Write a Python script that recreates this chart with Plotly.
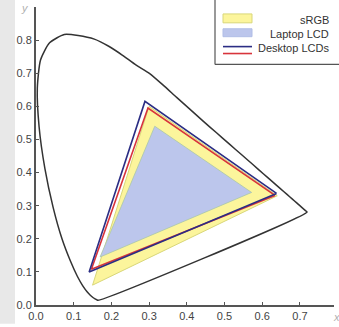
import plotly.graph_objects as go

# Spectral locus (CIE 1931-like horseshoe as drawn)
locus_x = [0.1644, 0.1611, 0.1566, 0.1510, 0.1440, 0.1355, 0.1241, 0.1096, 0.0913, 0.0687,
           0.0454, 0.0235, 0.0082, 0.0035, 0.0120, 0.0360, 0.0750, 0.1120, 0.1547, 0.1929,
           0.2296, 0.2658, 0.3016, 0.3373, 0.3731, 0.4087, 0.4441, 0.4788, 0.5125, 0.5448,
           0.5752, 0.6029, 0.6270, 0.6482, 0.6658, 0.6801, 0.6915, 0.7006, 0.7079, 0.7140,
           0.7190, 0.1644]
locus_y = [0.0140, 0.0158, 0.0187, 0.0227, 0.0297, 0.0399, 0.0578, 0.0868, 0.1327, 0.2007,
           0.2950, 0.4127, 0.5384, 0.6548, 0.7402, 0.7920, 0.8170, 0.8140, 0.8030, 0.7816,
           0.7543, 0.7243, 0.6990, 0.6640, 0.6270, 0.5910, 0.5547, 0.5202, 0.4866, 0.4544,
           0.4242, 0.3965, 0.3725, 0.3514, 0.3340, 0.3197, 0.3083, 0.2993, 0.2920, 0.2859,
           0.2809, 0.0140]

srgb_x = [0.640, 0.300, 0.150, 0.640]
srgb_y = [0.330, 0.600, 0.060, 0.330]

laptop_x = [0.572, 0.315, 0.170, 0.572]
laptop_y = [0.340, 0.540, 0.145, 0.340]

desk1_x = [0.638, 0.289, 0.141, 0.638]
desk1_y = [0.337, 0.615, 0.100, 0.337]

desk2_x = [0.634, 0.297, 0.147, 0.634]
desk2_y = [0.331, 0.595, 0.108, 0.331]

x_ticks = [0.0, 0.1, 0.2, 0.3, 0.4, 0.5, 0.6, 0.7]
y_ticks = [0.0, 0.1, 0.2, 0.3, 0.4, 0.5, 0.6, 0.7, 0.8]
legend_labels = ["sRGB", "Laptop LCD", "Desktop LCDs"]

W, H = 339, 327
ML, MR, MT, MB = 36, 5, 7, 19
PW = W - ML - MR
PH = H - MT - MB


def px(x):
    return (x - ML) / PW


def py(y):
    return (H - MB - y) / PH


fig = go.Figure()
fig.add_trace(go.Scatter(x=srgb_x, y=srgb_y, mode="lines", fill="toself",
                         fillcolor="#fcf59c", line=dict(color="#d9d77a", width=1),
                         hoverinfo="skip"))
fig.add_trace(go.Scatter(x=laptop_x, y=laptop_y, mode="lines", fill="toself",
                         fillcolor="#bcc6ec", line=dict(color="#a9c7a8", width=0.8),
                         hoverinfo="skip"))
fig.add_trace(go.Scatter(x=desk2_x, y=desk2_y, mode="lines",
                         line=dict(color="#d8343c", width=1.6), hoverinfo="skip"))
fig.add_trace(go.Scatter(x=desk1_x, y=desk1_y, mode="lines",
                         line=dict(color="#2b2d84", width=1.6), hoverinfo="skip"))
fig.add_trace(go.Scatter(x=locus_x, y=locus_y, mode="lines", line_shape="spline",
                         line=dict(color="#333333", width=1.5, smoothing=0.6), hoverinfo="skip"))

shapes = []
# gray band on the left
shapes.append(dict(type="rect", xref="paper", yref="paper", x0=px(0), x1=px(15),
                   y0=py(H), y1=py(0), fillcolor="#e8e8e8", line=dict(width=0), layer="below"))
# legend frame: white box, left and bottom borders only
shapes.append(dict(type="rect", xref="paper", yref="paper", x0=px(215), x1=px(W),
                   y0=py(65), y1=py(0), fillcolor="white", line=dict(width=0)))
shapes.append(dict(type="line", xref="paper", yref="paper", x0=px(215), x1=px(215),
                   y0=py(65), y1=py(0), line=dict(color="#555555", width=1.2)))
shapes.append(dict(type="line", xref="paper", yref="paper", x0=px(215), x1=px(W),
                   y0=py(65), y1=py(65), line=dict(color="#555555", width=1.2)))
# swatches
shapes.append(dict(type="rect", xref="paper", yref="paper", x0=px(223), x1=px(252),
                   y0=py(23), y1=py(14), fillcolor="#fcf59c", line=dict(color="#d9d77a", width=1)))
shapes.append(dict(type="rect", xref="paper", yref="paper", x0=px(223), x1=px(252),
                   y0=py(37), y1=py(29), fillcolor="#bcc6ec", line=dict(color="#b0bde6", width=1)))
shapes.append(dict(type="line", xref="paper", yref="paper", x0=px(223), x1=px(252),
                   y0=py(47), y1=py(47), line=dict(color="#2b2d84", width=1.6)))
shapes.append(dict(type="line", xref="paper", yref="paper", x0=px(223), x1=px(252),
                   y0=py(54), y1=py(54), line=dict(color="#d8343c", width=1.6)))

annotations = []
for lab, yy in zip(legend_labels, [20, 34, 48]):
    annotations.append(dict(text=lab, xref="paper", yref="paper", x=px(331), y=py(yy),
                            xanchor="right", yanchor="middle", showarrow=False,
                            font=dict(size=11, color="#333333")))
annotations.append(dict(text="<i>y</i>", xref="paper", yref="paper", x=px(25), y=py(8),
                        xanchor="center", yanchor="middle", showarrow=False,
                        font=dict(size=11, color="#b0b0b0")))
annotations.append(dict(text="<i>x</i>", xref="paper", yref="paper", x=px(336), y=py(320),
                        xanchor="center", yanchor="middle", showarrow=False,
                        font=dict(size=11, color="#b0b0b0")))

fig.update_layout(
    width=W, height=H,
    margin=dict(l=ML, r=MR, t=MT, b=MB, pad=0),
    paper_bgcolor="white", plot_bgcolor="white",
    showlegend=False,
    shapes=shapes, annotations=annotations,
    font=dict(family="Liberation Sans, Arial, sans-serif", size=11, color="#444444"),
    xaxis=dict(range=[0, PW / 377.0], tickvals=x_ticks, tickformat=".1f",
               showgrid=False, zeroline=False, showline=True, linecolor="#555555",
               linewidth=1.5, ticks="inside", ticklen=3, tickcolor="#555555",
               tickfont=dict(size=11, color="#444444")),
    yaxis=dict(range=[0, PH / 334.4], tickvals=y_ticks, tickformat=".1f",
               showgrid=False, zeroline=False, showline=True, linecolor="#555555",
               linewidth=2, ticks="inside", ticklen=3, tickcolor="#555555",
               tickfont=dict(size=11, color="#444444")),
)

fig.write_html("out.html", config={"displayModeBar": False},
               post_script="document.body.style.margin='0';document.body.style.overflow='hidden';")
